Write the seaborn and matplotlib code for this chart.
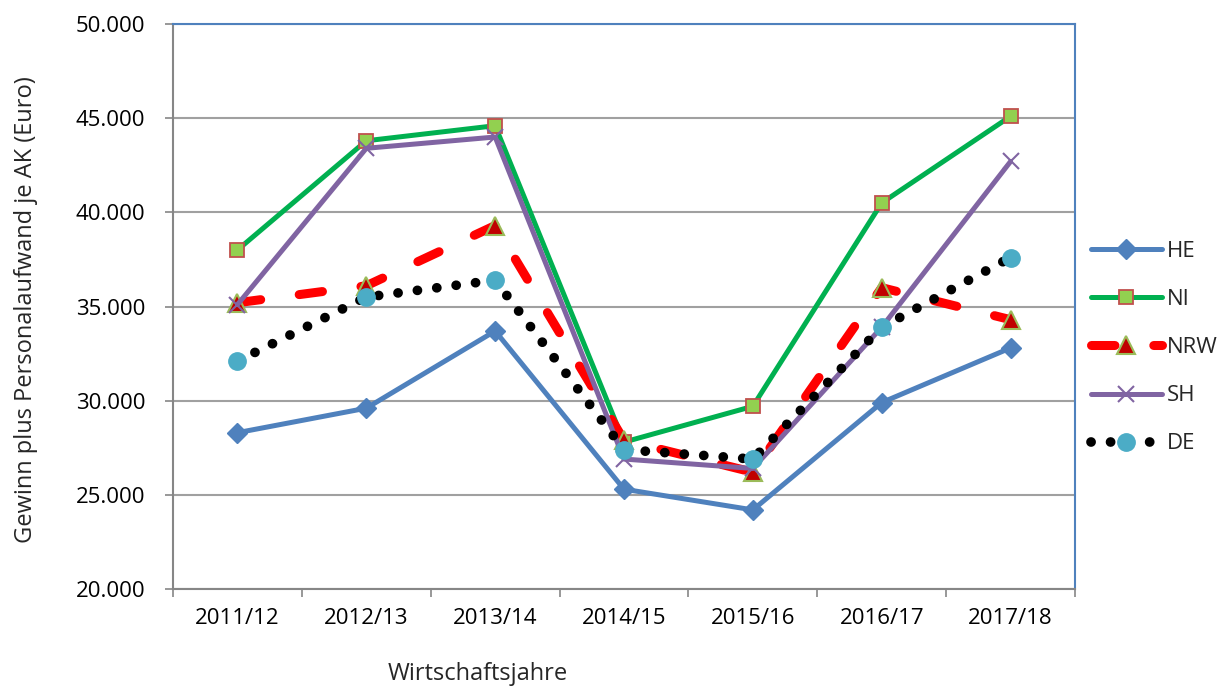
import matplotlib
matplotlib.use("Agg")
import matplotlib.pyplot as plt
import seaborn as sns
import pandas as pd
from matplotlib.ticker import FuncFormatter, FixedLocator

categories = ["2011/12", "2012/13", "2013/14", "2014/15", "2015/16", "2016/17", "2017/18"]
HE = [28300, 29600, 33700, 25300, 24200, 29900, 32800]
NI = [38000, 43800, 44600, 27800, 29700, 40500, 45100]
NRW = [35200, 36100, 39300, 27900, 26200, 36000, 34300]
SH = [35100, 43400, 44000, 26900, 26400, 33900, 42700]
DE = [32100, 35500, 36400, 27400, 26900, 33900, 37600]
series_names = ["HE", "NI", "NRW", "SH", "DE"]
y_ticks = [20000, 25000, 30000, 35000, 40000, 45000, 50000]

sns.set_theme(style="white")
plt.rcParams["font.family"] = ["Open Sans", "DejaVu Sans"]

fig = plt.figure(figsize=(12.19, 6.87), dpi=100)
ax = fig.add_axes([173/1219, 1-589/687, (1075-173)/1219, (589-24)/687])

styles = {
    "HE": dict(color="#4F81BD", lw=3.6, marker="D", ms=10, mfc="#4F81BD", mec="#4F81BD", mew=1,
               dash=None),
    "NI": dict(color="#00B050", lw=3.6, marker="s", ms=10, mfc="#92D050", mec="#C0504D", mew=1.3,
               dash=None),
    "NRW": dict(color="#FF0000", lw=6.5, marker="^", ms=13, mfc="#C00000", mec="#9BBB59", mew=1.5,
                dash=(2.6, 4.3)),
    "SH": dict(color="#8064A2", lw=3.6, marker="x", ms=12, mfc="#8064A2", mec="#8064A2", mew=1.5,
               dash=None),
    "DE": dict(color="black", lw=7, marker="o", ms=12.5, mfc="#4BACC6", mec="#4BACC6", mew=1,
               dash=(0.01, 2.0)),
}
data = {"HE": HE, "NI": NI, "NRW": NRW, "SH": SH, "DE": DE}

handles = []
for name in series_names:
    st = styles[name]
    df = pd.DataFrame({"Jahr": categories, "Wert": data[name]})
    sns.lineplot(data=df, x="Jahr", y="Wert", ax=ax, color=st["color"], linewidth=st["lw"],
                 marker=st["marker"], markersize=st["ms"], markerfacecolor=st["mfc"],
                 markeredgecolor=st["mec"], markeredgewidth=st["mew"], label=name, zorder=3)
    line = ax.lines[-1]
    line.set_solid_capstyle("round")
    if st["dash"] is not None:
        line.set_linestyle((0, st["dash"]))
        line.set_dash_capstyle("round")
    handles.append(line)

ax.set_xlim(-0.5, 6.5)
ax.set_ylim(20000, 50000)
ax.yaxis.set_major_locator(FixedLocator(y_ticks))
ax.yaxis.set_major_formatter(FuncFormatter(lambda v, p: f"{int(v):,}".replace(",", ".")))
ax.set_xticks(range(len(categories)))
ax.set_xticklabels(categories)
ax.set_xticks([i - 0.5 for i in range(len(categories) + 1)], minor=True)
ax.tick_params(axis="x", which="major", length=0, pad=14, labelsize=16, colors="black")
ax.tick_params(axis="x", which="minor", length=6, width=1.2, color="#868686", direction="out", bottom=True)
ax.tick_params(axis="y", which="major", length=6, width=1.2, color="#868686", direction="out",
               left=True, pad=14, labelsize=16, colors="black")
ax.grid(axis="y", color="#A0A0A0", linewidth=1.5, zorder=0)
ax.set_axisbelow(True)
for s in ["left", "bottom"]:
    ax.spines[s].set_color("#868686")
    ax.spines[s].set_linewidth(1.5)
for s in ["top", "right"]:
    ax.spines[s].set_color("#4F81BD")
    ax.spines[s].set_linewidth(1.5)

ax.set_xlabel("")
ax.set_ylabel("")
fig.text(26/1219, 1-310/687, "Gewinn plus Personalaufwand je AK (Euro)", fontsize=17,
         rotation=90, ha="center", va="center")
fig.text(478/1219, 1-674/687, "Wirtschaftsjahre", fontsize=17, ha="center", va="center")

leg = ax.legend(handles=handles, labels=series_names, loc="center left",
                bbox_to_anchor=(1.0, 0.427), frameon=False, fontsize=16,
                handlelength=3.2, labelspacing=1.22, handletextpad=0.25, borderaxespad=0.3)

fig.savefig("out.png", dpi=100)
